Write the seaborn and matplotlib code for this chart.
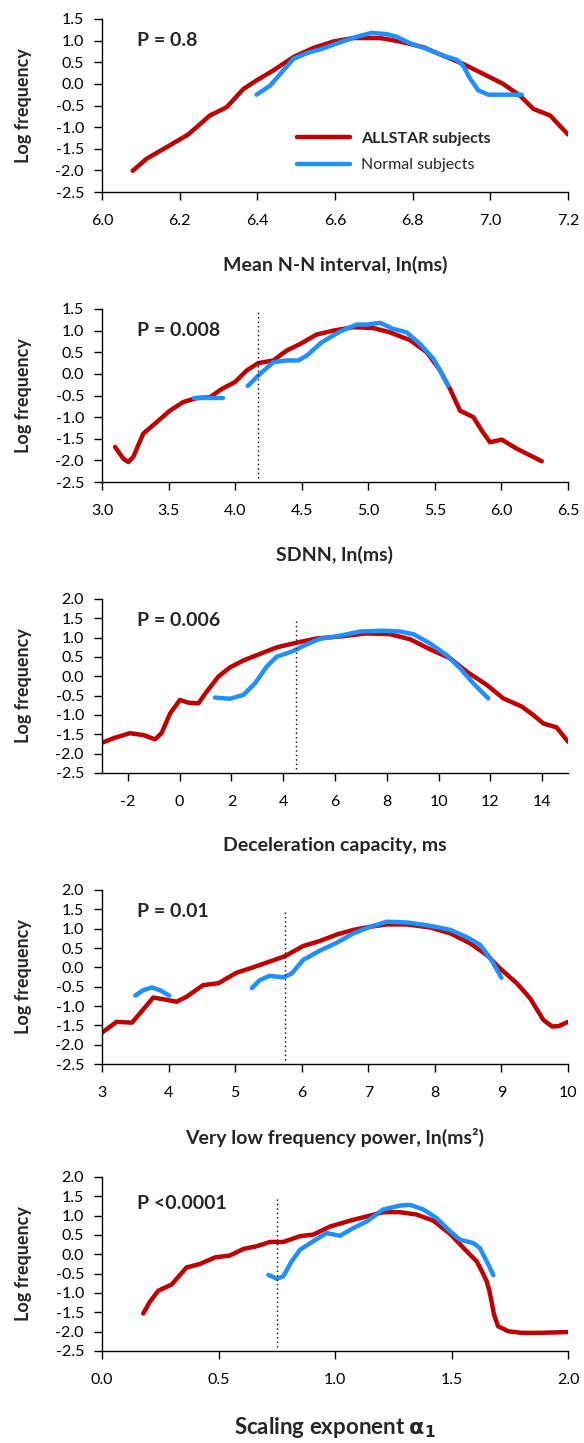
import matplotlib
matplotlib.use("Agg")
import matplotlib.pyplot as plt
from matplotlib.ticker import FormatStrFormatter
import seaborn as sns

# ---- data ----
# Mean N-N interval, ln(ms)
nn_all_x = [6.079, 6.115, 6.167, 6.222, 6.278, 6.321, 6.364, 6.398, 6.441, 6.493, 6.544,
            6.596, 6.647, 6.716, 6.767, 6.827, 6.879, 6.930, 6.982, 7.033, 7.076, 7.111,
            7.154, 7.200]
nn_all_y = [-2.01, -1.73, -1.46, -1.17, -0.73, -0.54, -0.12, 0.08, 0.31, 0.62, 0.83,
            0.98, 1.06, 1.06, 0.98, 0.85, 0.65, 0.46, 0.23, 0.00, -0.27, -0.58,
            -0.73, -1.17]
nn_norm_x = [[6.398, 6.433, 6.463, 6.493, 6.527, 6.566, 6.613, 6.656, 6.694, 6.733, 6.759,
              6.793, 6.836, 6.879, 6.913, 6.930, 6.948, 6.969, 6.995, 7.081]]
nn_norm_y = [[-0.25, -0.04, 0.27, 0.58, 0.71, 0.81, 0.96, 1.09, 1.18, 1.15, 1.09,
              0.94, 0.81, 0.65, 0.56, 0.42, 0.12, -0.15, -0.25, -0.25]]

# SDNN, ln(ms)
sd_all_x = [3.098, 3.160, 3.198, 3.235, 3.310, 3.398, 3.510, 3.611, 3.711, 3.811, 3.899,
            3.999, 4.087, 4.174, 4.287, 4.387, 4.487, 4.612, 4.738, 4.888, 5.038, 5.163,
            5.313, 5.439, 5.539, 5.614, 5.689, 5.789, 5.852, 5.914, 6.002, 6.115, 6.303]
sd_all_y = [-1.69, -1.96, -2.04, -1.92, -1.38, -1.15, -0.85, -0.65, -0.56, -0.54, -0.35,
            -0.19, 0.08, 0.25, 0.31, 0.54, 0.69, 0.91, 1.00, 1.08, 1.06, 0.96,
            0.78, 0.50, 0.08, -0.35, -0.85, -1.00, -1.31, -1.58, -1.52, -1.73, -2.02]
sd_norm_x = [[3.694, 3.911],
             [4.094, 4.187, 4.287, 4.387, 4.475, 4.537, 4.650, 4.788, 4.913, 4.988, 5.088,
              5.188, 5.288, 5.389, 5.489, 5.601]]
sd_norm_y = [[-0.56, -0.56],
             [-0.28, 0.00, 0.27, 0.31, 0.31, 0.42, 0.73, 0.98, 1.14, 1.14, 1.18,
              1.04, 0.96, 0.69, 0.35, -0.27]]

# Deceleration capacity, ms
dc_all_x = [-3.00, -2.56, -1.92, -1.40, -0.95, -0.70, -0.37, 0.01, 0.33, 0.72, 1.04,
            1.49, 1.94, 2.46, 3.10, 3.75, 4.52, 5.29, 6.19, 7.22, 8.12, 8.90,
            9.67, 10.44, 11.09, 11.86, 12.50, 13.21, 13.66, 14.05, 14.56, 15.00]
dc_all_y = [-1.72, -1.60, -1.47, -1.52, -1.63, -1.47, -0.96, -0.61, -0.68, -0.70, -0.40,
            -0.01, 0.23, 0.41, 0.58, 0.75, 0.87, 0.98, 1.03, 1.11, 1.09, 0.96,
            0.70, 0.47, 0.12, -0.22, -0.57, -0.78, -1.00, -1.22, -1.32, -1.69]
dc_norm_x = [[1.36, 1.94, 2.46, 2.91, 3.36, 3.75, 4.33, 4.91, 5.42, 6.19, 6.97,
              7.87, 8.51, 9.03, 9.67, 10.31, 10.83, 11.34, 11.92]]
dc_norm_y = [[-0.55, -0.58, -0.48, -0.18, 0.25, 0.51, 0.64, 0.83, 0.97, 1.05, 1.16,
              1.18, 1.16, 1.09, 0.85, 0.55, 0.21, -0.18, -0.57]]

# Very low frequency power, ln(ms^2)
vlf_all_x = [3.00, 3.22, 3.45, 3.57, 3.77, 3.97, 4.12, 4.27, 4.52, 4.75, 5.02,
             5.27, 5.52, 5.75, 6.02, 6.27, 6.53, 6.78, 7.03, 7.28, 7.58, 7.93,
             8.23, 8.53, 8.78, 8.98, 9.23, 9.43, 9.63, 9.76, 9.86, 10.00]
vlf_all_y = [-1.69, -1.41, -1.43, -1.19, -0.78, -0.84, -0.89, -0.76, -0.46, -0.41, -0.14,
             0.00, 0.15, 0.29, 0.55, 0.68, 0.85, 0.97, 1.05, 1.11, 1.11, 1.03,
             0.88, 0.62, 0.32, -0.03, -0.41, -0.80, -1.36, -1.53, -1.52, -1.41]
vlf_norm_x = [[3.50, 3.62, 3.75, 3.87, 4.01],
              [5.25, 5.37, 5.52, 5.72, 5.85, 6.02, 6.27, 6.53, 6.78, 7.03, 7.28,
               7.58, 7.88, 8.23, 8.48, 8.68, 8.85, 9.00]]
vlf_norm_y = [[-0.73, -0.59, -0.52, -0.59, -0.73],
              [-0.54, -0.33, -0.22, -0.26, -0.16, 0.19, 0.43, 0.64, 0.88, 1.05, 1.18,
               1.16, 1.09, 0.97, 0.78, 0.58, 0.19, -0.27]]

# Scaling exponent alpha1
a1_all_x = [0.177, 0.206, 0.242, 0.299, 0.363, 0.420, 0.485, 0.549, 0.607, 0.664, 0.721,
            0.778, 0.850, 0.907, 0.979, 1.064, 1.136, 1.207, 1.279, 1.350, 1.422, 1.494,
            1.565, 1.608, 1.629, 1.651, 1.662, 1.672, 1.682, 1.700, 1.744, 1.800, 1.880,
            2.000]
a1_all_y = [-1.53, -1.22, -0.94, -0.78, -0.34, -0.25, -0.08, -0.03, 0.14, 0.21, 0.32,
            0.32, 0.47, 0.51, 0.72, 0.87, 0.98, 1.09, 1.09, 1.03, 0.87, 0.53,
            0.08, -0.18, -0.42, -0.70, -0.93, -1.22, -1.55, -1.86, -1.99, -2.03, -2.03,
            -2.01]
a1_norm_x = [[0.714, 0.750, 0.778, 0.814, 0.850, 0.907, 0.964, 1.021, 1.079, 1.136, 1.207,
              1.279, 1.322, 1.379, 1.436, 1.486, 1.536, 1.594, 1.622, 1.651, 1.680]]
a1_norm_y = [[-0.53, -0.63, -0.57, -0.18, 0.12, 0.34, 0.55, 0.48, 0.68, 0.85, 1.16,
              1.26, 1.28, 1.16, 0.94, 0.64, 0.38, 0.29, 0.16, -0.18, -0.54]]

p_labels = ["P = 0.8", "P = 0.008", "P = 0.006", "P = 0.01", "P <0.0001"]
x_labels = ["Mean N-N interval, ln(ms)", "SDNN, ln(ms)", "Deceleration capacity, ms",
            "Very low frequency power, ln(ms²)", r"Scaling exponent $\mathbf{\alpha_1}$"]
cutoffs = [None, 4.17, 4.5, 5.75, 0.75]
x_ticks = [[6.0, 6.2, 6.4, 6.6, 6.8, 7.0, 7.2],
           [3.0, 3.5, 4.0, 4.5, 5.0, 5.5, 6.0, 6.5],
           [-2, 0, 2, 4, 6, 8, 10, 12, 14],
           [3, 4, 5, 6, 7, 8, 9, 10],
           [0.0, 0.5, 1.0, 1.5, 2.0]]
x_limits = [(6.0, 7.2), (3.0, 6.5), (-3, 15), (3, 10), (0.0, 2.0)]
x_fmt = ["%.1f", "%.1f", "%d", "%d", "%.1f"]
y_tops = [1.5, 1.5, 2.0, 2.0, 2.0]

series = [(nn_all_x, nn_all_y, nn_norm_x, nn_norm_y),
          (sd_all_x, sd_all_y, sd_norm_x, sd_norm_y),
          (dc_all_x, dc_all_y, dc_norm_x, dc_norm_y),
          (vlf_all_x, vlf_all_y, vlf_norm_x, vlf_norm_y),
          (a1_all_x, a1_all_y, a1_norm_x, a1_norm_y)]

RED = "#C00000"
BLUE = "#1E90FF"

sns.set_style("ticks")
plt.rcParams["font.family"] = ["Lato", "DejaVu Sans"]
plt.rcParams["axes.unicode_minus"] = False
plt.rcParams["mathtext.fontset"] = "dejavusans"

fig = plt.figure(figsize=(5.84, 14.43), dpi=100)
W, H = 584, 1443
# axes boxes in pixels: top, bottom
boxes = [(19, 192), (309, 482), (599, 773), (890, 1064), (1177, 1351)]

for i, (top, bot) in enumerate(boxes):
    ax = fig.add_axes([102 / W, 1 - bot / H, 466 / W, (bot - top) / H])
    ax_h = bot - top
    all_x, all_y, norm_x, norm_y = series[i]

    sns.lineplot(x=all_x, y=all_y, ax=ax, color=RED, linewidth=3.2, sort=False,
                 estimator=None, solid_capstyle="round", solid_joinstyle="round",
                 label="ALLSTAR subjects")
    for k, (sx, sy) in enumerate(zip(norm_x, norm_y)):
        sns.lineplot(x=sx, y=sy, ax=ax, color=BLUE, linewidth=3.2, sort=False,
                     estimator=None, solid_capstyle="round", solid_joinstyle="round",
                     label="Normal subjects" if k == 0 else None)

    if cutoffs[i] is not None:
        ax.vlines(cutoffs[i], -2.4, 1.43, colors="black", linestyles=(0, (1, 2.2)),
                  linewidth=1.0)

    ax.set_xlim(*x_limits[i])
    ax.set_ylim(-2.5, y_tops[i])
    ax.set_xticks(x_ticks[i])
    ax.set_yticks([v / 2 for v in range(-5, int(y_tops[i] * 2) + 1)])
    ax.xaxis.set_major_formatter(FormatStrFormatter(x_fmt[i]))
    ax.yaxis.set_major_formatter(FormatStrFormatter("%.1f"))
    ax.tick_params(axis="x", direction="out", length=6, width=1.0, pad=10,
                   labelsize=11.5, colors="black")
    ax.tick_params(axis="y", direction="out", length=6, width=1.0, pad=7,
                   labelsize=11.5, colors="black")
    sns.despine(ax=ax)
    for s in ["left", "bottom"]:
        ax.spines[s].set_linewidth(1.0)
        ax.spines[s].set_color("black")

    ax.set_ylabel("Log frequency", fontsize=13, fontweight="bold")
    ax.yaxis.set_label_coords(-0.15, 0.5)
    ax.set_xlabel(x_labels[i], fontsize=16 if i == 4 else 14, fontweight="bold")
    ax.xaxis.set_label_coords(0.5, -64 / ax_h)

    p_y = 0.845 if i == 4 else 0.878
    ax.text(0.075, p_y, p_labels[i], transform=ax.transAxes, fontsize=14,
            fontweight="bold", va="center", ha="left")

    if i == 0:
        leg = ax.legend(loc="upper left", bbox_to_anchor=(0.405, 0.385), frameon=False,
                        fontsize=11.5, handlelength=3.3, handletextpad=0.7,
                        borderaxespad=0, labelspacing=0.75)
        leg.get_texts()[0].set_fontweight("bold")
    else:
        ax.get_legend().remove()

fig.savefig("out.png", dpi=100)
